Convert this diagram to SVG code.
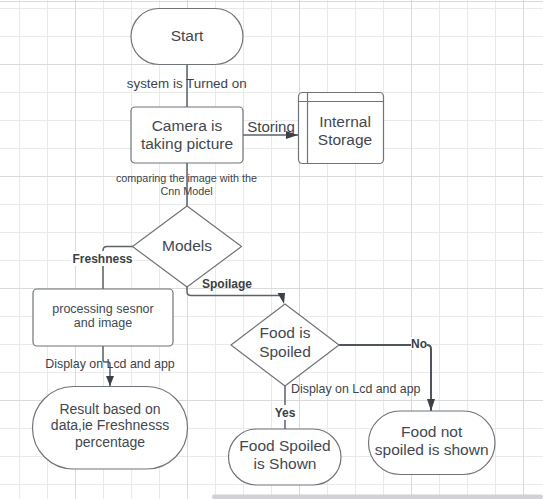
<svg xmlns="http://www.w3.org/2000/svg" width="543" height="499" viewBox="0 0 543 499">
<defs>
<style>
.node{fill:#ffffff;stroke:#6f747a;stroke-width:1.2}
.t{font-family:"Liberation Sans",Arial,sans-serif;fill:#424851;text-anchor:middle}
.n15{font-size:15.5px}
.lbl{font-family:"Liberation Sans",Arial,sans-serif;fill:#3d434b}
.b{font-weight:bold;font-size:12px;fill:#3a3f46}
.c{fill:none;stroke:#5c6168;stroke-width:1.5}
.minor{stroke:#eaeaea;stroke-width:1}
.major{stroke:#dadada;stroke-width:1}
</style>
<marker id="ah" viewBox="0 0 10 8" refX="10" refY="4" markerWidth="10" markerHeight="8" markerUnits="userSpaceOnUse" orient="auto">
<path d="M0,0 L10,4 L0,8 Z" fill="#3c4148"/>
</marker>
<marker id="ahL" viewBox="0 0 12 8" refX="12" refY="4" markerWidth="12" markerHeight="8" markerUnits="userSpaceOnUse" orient="auto">
<path d="M0,0 L12,4 L0,8 Z" fill="#3c4148"/>
</marker>
</defs>
<rect x="0" y="0" width="543" height="499" fill="#ffffff"/>
<g id="grid">
<g class="minor">
<path d="M19.5 0V499M47.5 0V499M103.5 0V499M131.5 0V499M159.5 0V499M215.5 0V499M243.5 0V499M271.5 0V499M327.5 0V499M355.5 0V499M383.5 0V499M439.5 0V499M467.5 0V499M495.5 0V499"/>
<path d="M0 8.5H543M0 36.5H543M0 92.5H543M0 120.5H543M0 148.5H543M0 204.5H543M0 232.5H543M0 260.5H543M0 316.5H543M0 344.5H543M0 372.5H543M0 428.5H543M0 456.5H543M0 484.5H543"/>
</g>
<g class="major">
<path d="M75.5 0V499M187.5 0V499M299.5 0V499M411.5 0V499M523.5 0V499"/>
<path d="M0 1.5H543M0 64.5H543M0 176.5H543M0 288.5H543M0 400.5H543"/>
</g>
</g>
<rect x="212" y="494.5" width="331" height="4.5" rx="2" fill="#d1d2d5"/>
<g id="connectors">
<path class="c" d="M187 65V107"/>
<path class="c" d="M243 135H298" marker-end="url(#ahL)"/>
<path class="c" d="M187 163V206"/>
<path class="c" d="M133 246.5H107Q103 246.5 103 250.5V289"/>
<path class="c" d="M187 287V291.5Q187 295.5 191 295.5H280"/>
<polygon points="277.5,293 285,293 284,304" fill="#3c4148"/>
<path class="c" d="M103 346V360Q103 362 105 362H108Q110 362 110 364V386" marker-end="url(#ah)"/>
<path class="c" style="stroke-width:2;stroke:#50555c" d="M339 345H427Q431 345 431 349V411" marker-end="url(#ahL)"/>
<path class="c" d="M285 386V429"/>
<text class="lbl" x="186.7" y="88.3" font-size="13.4" text-anchor="middle">system is Turned on</text>
<text class="lbl" x="271" y="131.7" font-size="15" text-anchor="middle" fill="#4a5058">Storing</text>
<text class="lbl" x="186.5" y="182.3" font-size="10.8" text-anchor="middle"><tspan x="186.5">comparing the image with the</tspan><tspan x="186.5" y="195">Cnn Model</tspan></text>
<rect x="71" y="251" width="63" height="15" fill="#ffffff"/>
<text class="lbl b" x="102.5" y="262.5" text-anchor="middle">Freshness</text>
<text class="lbl b" x="227" y="288" text-anchor="middle">Spoilage</text>
<text class="lbl" x="110" y="367.7" font-size="12.4" text-anchor="middle">Display on Lcd and app</text>
<rect x="411" y="337" width="16" height="13" fill="#ffffff"/>
<text class="lbl b" x="419" y="347.5" text-anchor="middle">No</text>
<text class="lbl" x="291" y="393" font-size="12.4">Display on Lcd and app</text>
<rect x="274" y="405" width="22" height="15" fill="#ffffff"/>
<text class="lbl b" x="285" y="416.5" text-anchor="middle">Yes</text>
</g>
<g id="start">
<rect class="node" x="131" y="8.5" width="112" height="56" rx="28"/>
<text class="t n15" x="187" y="41">Start</text>
</g>
<g id="camera">
<rect class="node" x="131" y="107" width="112" height="56" rx="4"/>
<text class="t n15" x="187" y="131">Camera is</text>
<text class="t n15" x="187" y="149">taking picture</text>
</g>
<g id="storage">
<rect class="node" x="298.5" y="92.5" width="85" height="71" rx="4"/>
<path d="M307.5 92.5V163.5M298.5 101.5H383.5" stroke="#6f747a" stroke-width="1.2" fill="none"/>
<text class="t n15" x="345" y="126.5">Internal</text>
<text class="t n15" x="345" y="145">Storage</text>
</g>
<g id="models">
<polygon class="node" points="187,206 241.5,246.5 187,287 132.5,246.5" stroke-linejoin="round"/>
<text class="t" x="187" y="250.5" font-size="15.5" fill="#565d66">Models</text>
</g>
<g id="processing">
<rect class="node" x="33" y="289" width="140" height="57" rx="4"/>
<text class="t" x="103" y="312.7" font-size="12.5">processing sesnor</text>
<text class="t" x="103" y="327.3" font-size="12.5">and image</text>
</g>
<g id="result">
<rect class="node" x="32.5" y="386.5" width="155" height="82.5" rx="41"/>
<text class="t" x="110" y="413.5" font-size="14">Result based on</text>
<text class="t" x="110" y="430" font-size="14">data,ie Freshnesss</text>
<text class="t" x="110" y="446.5" font-size="14">percentage</text>
</g>
<g id="spoiled-decision">
<polygon class="node" points="285,304 339,345 285,386 231,345" stroke-linejoin="round"/>
<text class="t n15" x="285" y="338.3">Food is</text>
<text class="t n15" x="285" y="356.7">Spoiled</text>
</g>
<g id="food-spoiled">
<rect class="node" x="228.5" y="429" width="112.5" height="56" rx="28"/>
<text class="t n15" x="285" y="451">Food Spoiled</text>
<text class="t n15" x="285" y="469.3">is Shown</text>
</g>
<g id="food-not-spoiled">
<rect class="node" x="368.5" y="411" width="126.5" height="63.5" rx="31.75"/>
<text class="t n15" x="431.7" y="436.5">Food not</text>
<text class="t n15" x="431.7" y="455">spoiled is shown</text>
</g>
</svg>
